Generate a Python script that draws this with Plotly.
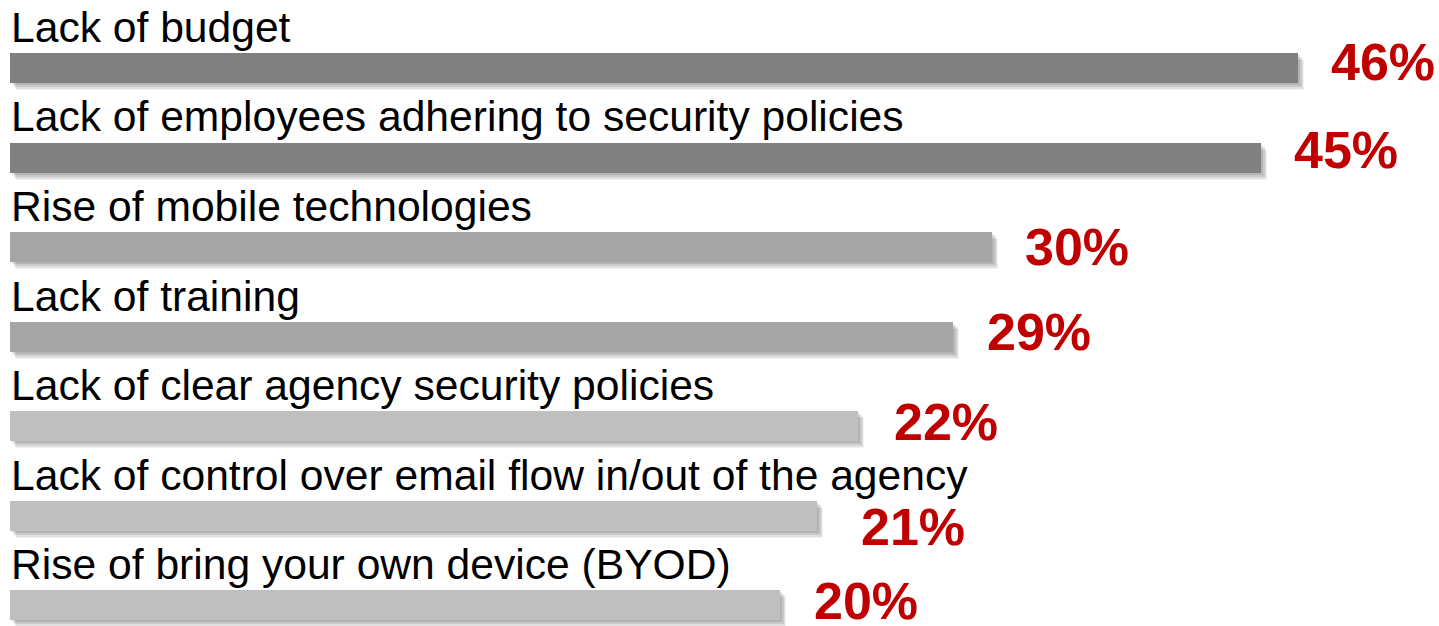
import plotly.graph_objects as go

categories = [
    "Lack of budget",
    "Lack of employees adhering to security policies",
    "Rise of mobile technologies",
    "Lack of training",
    "Lack of clear agency security policies",
    "Lack of control over email flow in/out of the agency",
    "Rise of bring your own device (BYOD)",
]
values = [46, 45, 30, 29, 22, 21, 20]  # percentages shown as labels
# drawn bar lengths (the original bars are not to scale)
bar_lengths = [46.0, 44.68, 35.07, 33.68, 30.29, 28.82, 27.5]
bar_colors = ["#808080", "#808080", "#A6A6A6", "#A6A6A6", "#BFBFBF", "#BFBFBF", "#BFBFBF"]

# label placement nudges (pixels), as in the original layout
label_gap = [31, 31, 31, 32, 34, 42, 32]
label_dy = [6, 8, 0, 5, 4, -11, 4]

W, H = 1439, 626
PX_X = 28.0      # pixels per x unit
PX_Y = 89.5      # pixels per category
X0 = 10          # pixel of x=0
Y0 = 68          # pixel centre of first bar
BAR_PX = 30

ypos = list(range(len(categories)))
bw = BAR_PX / PX_Y

fig = go.Figure()

# soft drop shadows (several layers to imitate blur)
for dx, dy, alpha in [(6, 7, 0.05), (5, 6, 0.07), (4, 4, 0.10), (2, 2, 0.10)]:
    fig.add_trace(go.Bar(
        orientation="h", y=ypos, x=bar_lengths,
        base=[dx / PX_X] * len(ypos),
        width=bw, offset=-bw / 2 + dy / PX_Y,
        marker=dict(color=f"rgba(0,0,0,{alpha})", line=dict(width=0)),
        hoverinfo="skip", showlegend=False,
    ))

fig.add_trace(go.Bar(
    orientation="h", y=ypos, x=bar_lengths,
    width=bw,
    marker=dict(color=bar_colors, line=dict(width=0)),
    showlegend=False,
))

annotations = []
for i, (cat, v, L) in enumerate(zip(categories, values, bar_lengths)):
    annotations.append(dict(
        x=0, y=i, xref="x", yref="y", text=cat, showarrow=False,
        xanchor="left", yanchor="bottom", xshift=-1, yshift=BAR_PX / 2,
        font=dict(family="Liberation Sans, Arial", size=42.6, color="#000000"),
    ))
    annotations.append(dict(
        x=L, y=i, xref="x", yref="y", text=f"<b>{v}%</b>", showarrow=False,
        xanchor="left", yanchor="middle", xshift=label_gap[i], yshift=label_dy[i],
        font=dict(family="Liberation Sans, Arial", size=52, color="#C00000"),
    ))

fig.update_layout(
    width=W, height=H,
    margin=dict(l=0, r=0, t=0, b=0),
    paper_bgcolor="white", plot_bgcolor="white",
    barmode="overlay", bargap=0,
    annotations=annotations,
    xaxis=dict(range=[-X0 / PX_X, (W - X0) / PX_X], visible=False, fixedrange=True),
    yaxis=dict(range=[(H - Y0) / PX_Y, -Y0 / PX_Y], visible=False, fixedrange=True),
)

fig.write_html("out.html")
